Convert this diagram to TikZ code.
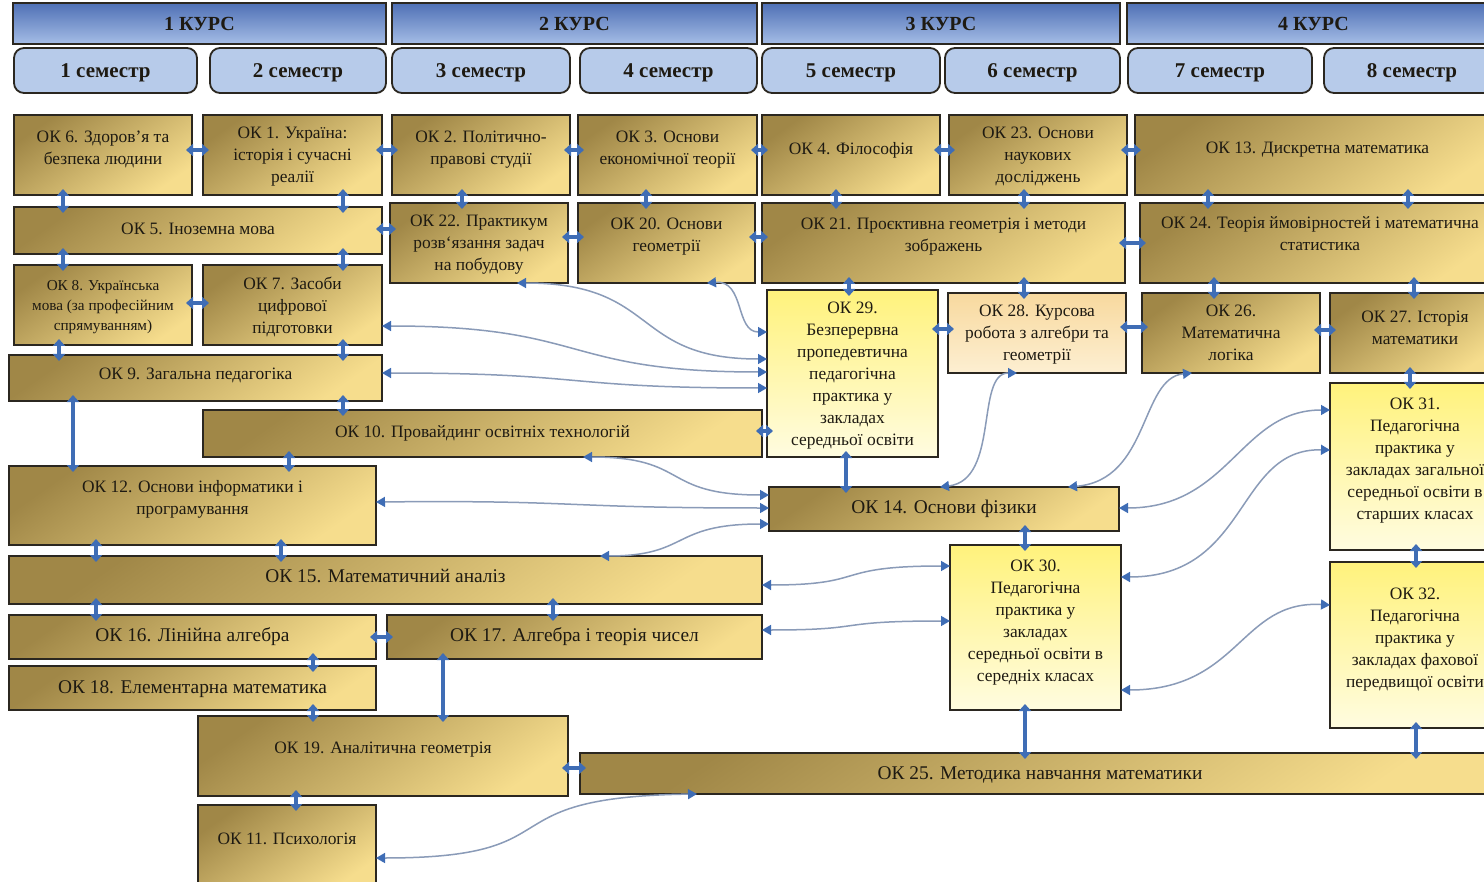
\documentclass[tikz,border=0pt]{standalone}
\usepackage{fontspec}
\setmainfont{Liberation Serif}
\usetikzlibrary{arrows.meta,calc}
\definecolor{goldD}{HTML}{A08747}
\definecolor{goldL}{HTML}{F6DD8D}
\definecolor{yelT}{HTML}{FFF27C}
\definecolor{yelB}{HTML}{FFFCE0}
\definecolor{peachT}{HTML}{F8D99E}
\definecolor{peachB}{HTML}{FDEFD2}
\definecolor{kursT}{HTML}{4F70B5}
\definecolor{kursB}{HTML}{A5BDE6}
\definecolor{semF}{HTML}{B7CBEA}
\definecolor{bord}{HTML}{2B2720}
\definecolor{ablue}{HTML}{3F6DB5}
\definecolor{lineC}{HTML}{8A9BB8}
\definecolor{txt}{HTML}{1E1A12}
\newcommand\fntA{\fontsize{8.7}{11}\selectfont}
\newcommand\fntB{\fontsize{9.7}{12}\selectfont}
\newcommand\fntC{\fontsize{7.6}{10}\selectfont}
\newcommand\fntK{\fontsize{10}{12}\selectfont\bfseries}
\newcommand\fntS{\fontsize{10.5}{12}\selectfont\bfseries}
% box: name, x1, y1, x2, y2, style, upward text shift (px), text
\newcommand\bx[8]{%
  \pgfmathsetmacro\myW{(#4-#2)*0.5}%
  \pgfmathsetmacro\myH{(#5-#3)*0.5}%
  \pgfmathsetmacro\myD{0+#7}%
  \node[#6, minimum width=\myW pt, minimum height=\myH pt, text depth=\myD pt] (#1) at ({(#2+#4)/2},{(#3+#5)/2}) {#8};}
\tikzset{
  base/.style={draw=bord, line width=0.9pt, text=txt, align=center, inner sep=1pt, outer sep=0pt},
  gold/.style={base, top color=goldD, bottom color=goldL, shading angle=35, font=\fntA},
  yel/.style={base, top color=yelT, bottom color=yelB, font=\fntA},
  peach/.style={base, top color=peachT, bottom color=peachB, font=\fntA},
  kurs/.style={base, top color=kursT, bottom color=kursB, font=\fntK},
  sem/.style={base, fill=semF, rounded corners=5pt, font=\fntS},
  tk/.style={draw=ablue, line width=2.2pt, {Triangle[width=6pt,length=3.5pt]}-{Triangle[width=6pt,length=3.5pt]}, shorten <=-3pt, shorten >=-3pt},
  cv/.style={draw=lineC, line width=0.75pt, {Triangle[width=5pt,length=4.5pt,color=ablue]}-{Triangle[width=5pt,length=4.5pt,color=ablue]}}
}
\begin{document}
\begin{tikzpicture}[x=0.5pt,y=-0.5pt]
\useasboundingbox (0,0) rectangle (1484,882);
\fill[white] (0,0) rectangle (1484,882);
\clip (0,0) rectangle (1484,882);
% header
\bx{k1}{13}{3}{386}{44}{kurs}{0}{1 КУРС}
\bx{k2}{392}{3}{757}{44}{kurs}{0}{2 КУРС}
\bx{k3}{762}{3}{1120}{44}{kurs}{0}{3 КУРС}
\bx{k4}{1127}{3}{1500}{44}{kurs}{0}{4 КУРС}
\bx{s1}{14}{48}{197}{93}{sem}{0}{1 семестр}
\bx{s2}{210}{48}{386}{93}{sem}{0}{2 семестр}
\bx{s3}{392}{48}{570}{93}{sem}{0}{3 семестр}
\bx{s4}{580}{48}{757}{93}{sem}{0}{4 семестр}
\bx{s5}{762}{48}{940}{93}{sem}{0}{5 семестр}
\bx{s6}{945}{48}{1120}{93}{sem}{0}{6 семестр}
\bx{s7}{1128}{48}{1312}{93}{sem}{0}{7 семестр}
\bx{s8}{1324}{48}{1500}{93}{sem}{0}{8 семестр}
% row 1
\bx{ok6}{14}{115}{192}{195}{gold}{7}{ОК 6. Здоров’я та\\безпека людини}
\bx{ok1}{203}{115}{382}{195}{gold}{0}{ОК 1. Україна:\\історія і сучасні\\реалії}
\bx{ok2}{392}{115}{570}{195}{gold}{7}{ОК 2. Політично-\\правові студії}
\bx{ok3}{578}{115}{757}{195}{gold}{7}{ОК 3. Основи\\економічної теорії}
\bx{ok4}{762}{115}{940}{195}{gold}{7}{ОК 4. Філософія}
\bx{ok23}{949}{115}{1127}{195}{gold}{0}{ОК 23. Основи\\наукових\\досліджень}
\bx{ok13}{1135}{115}{1500}{195}{gold}{7}{ОК 13. Дискретна математика}
% row 2
\bx{ok5}{14}{207}{382}{254}{gold}{2}{ОК 5. Іноземна мова}
\bx{ok22}{390}{203}{568}{283}{gold}{0}{ОК 22. Практикум\\розв‘язання задач\\на побудову}
\bx{ok20}{578}{203}{755}{283}{gold}{8}{ОК 20. Основи\\геометрії}
\bx{ok21}{762}{203}{1125}{283}{gold}{8}{ОК 21. Проєктивна геометрія і методи\\зображень}
\bx{ok24}{1140}{203}{1500}{283}{gold}{9}{ОК 24. Теорія ймовірностей і математична\\статистика}
% row 3
\bx{ok8}{14}{265}{192}{345}{gold,font=\fntC}{0}{ОК 8. Українська\\мова (за професійним\\спрямуванням)}
\bx{ok7}{203}{265}{382}{345}{gold}{0}{ОК 7. Засоби\\цифрової\\підготовки}
\bx{ok29}{767}{290}{938}{457}{yel}{0}{ОК 29.\\Безперервна\\пропедевтична\\педагогічна\\практика у\\закладах\\середньої освіти}
\bx{ok28}{948}{293}{1126}{373}{peach}{0}{ОК 28. Курсова\\робота з алгебри та\\геометрії}
\bx{ok26}{1142}{293}{1320}{373}{gold}{0}{ОК 26.\\Математична\\логіка}
\bx{ok27}{1330}{293}{1500}{373}{gold}{5}{ОК 27. Історія\\математики}
\bx{ok9}{9}{355}{382}{401}{gold}{4}{ОК 9. Загальна педагогіка}
\bx{ok10}{203}{410}{762}{457}{gold}{2}{ОК 10. Провайдинг освітніх технологій}
\bx{ok31}{1330}{383}{1500}{550}{yel}{8}{ОК 31.\\Педагогічна\\практика у\\закладах загальної\\середньої освіти в\\старших класах}
\bx{ok12}{9}{466}{376}{545}{gold}{8}{ОК 12. Основи інформатики і\\програмування}
\bx{ok14}{769}{487}{1119}{531}{gold,font=\fntB}{2}{ОК 14. Основи фізики}
\bx{ok30}{950}{545}{1121}{710}{yel}{7}{ОК 30.\\Педагогічна\\практика у\\закладах\\середньої освіти в\\середніх класах}
\bx{ok15}{9}{556}{762}{604}{gold,font=\fntB}{4}{ОК 15. Математичний аналіз}
\bx{ok16}{9}{615}{376}{659}{gold,font=\fntB}{2}{ОК 16. Лінійна алгебра}
\bx{ok17}{387}{615}{762}{659}{gold,font=\fntB}{2}{ОК 17. Алгебра і теорія чисел}
\bx{ok32}{1330}{562}{1500}{728}{yel}{7}{ОК 32.\\Педагогічна\\практика у\\закладах фахової\\передвищої освіти}
\bx{ok18}{9}{666}{376}{710}{gold,font=\fntB}{1}{ОК 18. Елементарна математика}
\bx{ok19}{198}{716}{568}{796}{gold}{8}{ОК 19. Аналітична геометрія}
\bx{ok25}{580}{753}{1500}{794}{gold,font=\fntB}{0}{ОК 25. Методика навчання математики}
\bx{ok11}{198}{805}{376}{888}{gold}{8}{ОК 11. Психологія}
% thick double arrows
\draw[tk] (ok6.east |- 0,150) -- (ok1.west |- 0,150);
\draw[tk] (ok1.east |- 0,150) -- (ok2.west |- 0,150);
\draw[tk] (ok2.east |- 0,150) -- (ok3.west |- 0,150);
\draw[tk] (ok3.east |- 0,150) -- (ok4.west |- 0,150);
\draw[tk] (ok4.east |- 0,150) -- (ok23.west |- 0,150);
\draw[tk] (ok23.east |- 0,150) -- (ok13.west |- 0,150);
\draw[tk] (ok6.south -| 63,0) -- (ok5.north -| 63,0);
\draw[tk] (ok1.south -| 343,0) -- (ok5.north -| 343,0);
\draw[tk] (ok2.south -| 462,0) -- (ok22.north -| 462,0);
\draw[tk] (ok3.south -| 646,0) -- (ok20.north -| 646,0);
\draw[tk] (ok4.south -| 836,0) -- (ok21.north -| 836,0);
\draw[tk] (ok23.south -| 1024,0) -- (ok21.north -| 1024,0);
\draw[tk] (ok13.south -| 1208,0) -- (ok24.north -| 1208,0);
\draw[tk] (ok13.south -| 1408,0) -- (ok24.north -| 1408,0);
\draw[tk] (ok5.east |- 0,229) -- (ok22.west |- 0,229);
\draw[tk] (ok22.east |- 0,237) -- (ok20.west |- 0,237);
\draw[tk] (ok20.east |- 0,237) -- (ok21.west |- 0,237);
\draw[tk] (ok21.east |- 0,243) -- (ok24.west |- 0,243);
\draw[tk] (ok5.south -| 63,0) -- (ok8.north -| 63,0);
\draw[tk] (ok5.south -| 343,0) -- (ok7.north -| 343,0);
\draw[tk] (ok21.south -| 849,0) -- (ok29.north -| 849,0);
\draw[tk] (ok21.south -| 1024,0) -- (ok28.north -| 1024,0);
\draw[tk] (ok24.south -| 1214,0) -- (ok26.north -| 1214,0);
\draw[tk] (ok24.south -| 1414,0) -- (ok27.north -| 1414,0);
\draw[tk] (ok8.east |- 0,303) -- (ok7.west |- 0,303);
\draw[tk] (ok29.east |- 0,329) -- (ok28.west |- 0,329);
\draw[tk] (ok28.east |- 0,327) -- (ok26.west |- 0,327);
\draw[tk] (ok26.east |- 0,330) -- (ok27.west |- 0,330);
\draw[tk] (ok8.south -| 59,0) -- (ok9.north -| 59,0);
\draw[tk] (ok7.south -| 343,0) -- (ok9.north -| 343,0);
\draw[tk] (ok27.south -| 1410,0) -- (ok31.north -| 1410,0);
\draw[tk] (ok9.south -| 343,0) -- (ok10.north -| 343,0);
\draw[tk] (ok9.south -| 73,0) -- (ok12.north -| 73,0);
\draw[tk] (ok10.east |- 0,431) -- (ok29.west |- 0,431);
\draw[tk] (ok10.south -| 289,0) -- (ok12.north -| 289,0);
\draw[tk] (ok29.south -| 846,0) -- (ok14.north -| 846,0);
\draw[tk] (ok12.south -| 96,0) -- (ok15.north -| 96,0);
\draw[tk] (ok12.south -| 281,0) -- (ok15.north -| 281,0);
\draw[tk] (ok14.south -| 1025,0) -- (ok30.north -| 1025,0);
\draw[tk] (ok31.south -| 1416,0) -- (ok32.north -| 1416,0);
\draw[tk] (ok15.south -| 96,0) -- (ok16.north -| 96,0);
\draw[tk] (ok15.south -| 553,0) -- (ok17.north -| 553,0);
\draw[tk] (ok16.east |- 0,637) -- (ok17.west |- 0,637);
\draw[tk] (ok16.south -| 313,0) -- (ok18.north -| 313,0);
\draw[tk] (ok18.south -| 313,0) -- (ok19.north -| 313,0);
\draw[tk] (ok17.south -| 443,0) -- (ok19.north -| 443,0);
\draw[tk] (ok19.east |- 0,768) -- (ok25.west |- 0,768);
\draw[tk] (ok19.south -| 296,0) -- (ok11.north -| 296,0);
\draw[tk] (ok30.south -| 1025,0) -- (ok25.north -| 1025,0);
\draw[tk] (ok32.south -| 1416,0) -- (ok25.north -| 1416,0);
% thin curved double arrows
\draw[cv] (ok20.south -| 707,0) .. controls (745,280) and (735,332) .. (ok29.west |- 0,332);
\draw[cv] (ok22.south -| 517,0) .. controls (660,283) and (630,359) .. (ok29.west |- 0,359);
\draw[cv] (ok7.east |- 0,326) .. controls (590,326) and (560,372) .. (ok29.west |- 0,372);
\draw[cv] (ok9.east |- 0,373) .. controls (590,373) and (560,388) .. (ok29.west |- 0,388);
\draw[cv] (ok10.south -| 583,0) .. controls (690,457) and (660,495) .. (ok14.west |- 0,495);
\draw[cv] (ok12.east |- 0,502) .. controls (580,500) and (560,508) .. (ok14.west |- 0,508);
\draw[cv] (ok15.north -| 600,0) .. controls (690,556) and (670,524) .. (ok14.west |- 0,524);
\draw[cv] (ok28.south -| 1017,0) .. controls (975,373) and (1000,480) .. (ok14.north -| 940,0);
\draw[cv] (ok26.south -| 1192,0) .. controls (1140,378) and (1150,480) .. (ok14.north -| 1068,0);
\draw[cv] (ok31.west |- 0,410) .. controls (1240,410) and (1230,508) .. (ok14.east |- 0,508);
\draw[cv] (ok31.west |- 0,450) .. controls (1235,448) and (1250,577) .. (ok30.east |- 0,577);
\draw[cv] (ok32.west |- 0,605) .. controls (1240,600) and (1240,690) .. (ok30.east |- 0,690);
\draw[cv] (ok15.east |- 0,585) .. controls (870,585) and (830,566) .. (ok30.west |- 0,566);
\draw[cv] (ok17.east |- 0,630) .. controls (870,630) and (830,621) .. (ok30.west |- 0,621);
\draw[cv] (ok11.east |- 0,858) .. controls (580,858) and (480,797) .. (ok25.south -| 697,0);
\end{tikzpicture}
\end{document}
